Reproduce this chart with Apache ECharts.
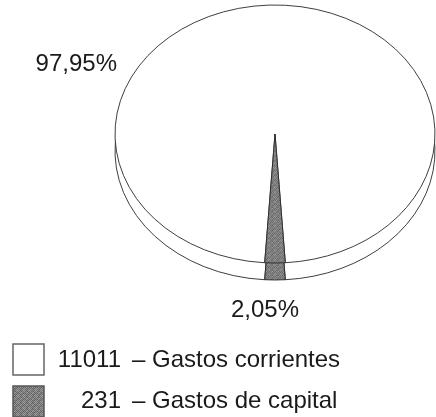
<!DOCTYPE html>
<html>
<head>
<meta charset="utf-8">
<script src="https://cdn.jsdelivr.net/npm/echarts@6/dist/echarts.min.js"></script>
<style>
  html, body { margin: 0; padding: 0; background: #fff; }
  #chart { width: 436px; height: 417px; }
</style>
</head>
<body>
<div id="chart"></div>
<script>
// datos del gráfico
var categories = ['Gastos corrientes', 'Gastos de capital'];
var values = [11011, 231];

var total = values.reduce(function (a, b) { return a + b; }, 0);

// geometria de la tarta en perspectiva
var cx = 275, cy = 134, rx = 160, ry = 129, depth = 17;
var squash = ry / rx;
var labelPos = [[117, 64, 'right'], [265, 310, 'center']];
var font = '24px "Liberation Sans", Arial, sans-serif';

// trama gris punteada (fija) para el sector pequeño
function makeGrain () {
  var shades = [
    [120, 150, 95, 140, 110, 160],
    [155, 100, 135, 90, 150, 115],
    [105, 145, 120, 165, 100, 135],
    [140, 90, 160, 110, 145, 95],
    [115, 155, 100, 130, 90, 150],
    [150, 110, 140, 95, 160, 120]
  ];
  var c = document.createElement('canvas');
  c.width = 6;
  c.height = 6;
  var ctx = c.getContext('2d');
  for (var y = 0; y < 6; y++) {
    for (var x = 0; x < 6; x++) {
      var g = shades[y][x];
      ctx.fillStyle = 'rgb(' + g + ',' + g + ',' + g + ')';
      ctx.fillRect(x, y, 1, 1);
    }
  }
  return {image: c, repeat: 'repeat'};
}
var grain = makeGrain();
var colors = ['#ffffff', grain];

function pct (v) {
  return (v / total * 100).toFixed(2).replace('.', ',') + '%';
}

// el sector pequeño queda centrado abajo (PI/2)
function angles (idx) {
  var half = values[1] / total * Math.PI;
  if (idx === 1) {
    return [Math.PI / 2 - half, Math.PI / 2 + half];
  }
  return [Math.PI / 2 + half, Math.PI / 2 - half + Math.PI * 2];
}

var myChart = echarts.init(document.getElementById('chart'), null, {renderer: 'canvas'});

var option = {
  animation: false,
  series: [{
    type: 'custom',
    coordinateSystem: 'none',
    data: values,
    renderItem: function (params, api) {
      var idx = params.dataIndex;
      var a = angles(idx);
      var lp = labelPos[idx];
      var sectorStyle = {
        fill: colors[idx],
        stroke: '#2a2a2a',
        lineWidth: 1,
        strokeNoScale: true
      };
      return {
        type: 'group',
        children: [{
          type: 'group',
          x: cx,
          y: cy,
          scaleY: squash,
          children: [{
            type: 'sector',
            z2: 1,
            shape: {cx: 0, cy: depth / squash, r0: 0, r: rx, startAngle: a[0], endAngle: a[1]},
            style: sectorStyle
          }, {
            type: 'sector',
            z2: 10,
            shape: {cx: 0, cy: 0, r0: 0, r: rx, startAngle: a[0], endAngle: a[1]},
            style: sectorStyle
          }]
        }, {
          type: 'text',
          z2: 20,
          x: lp[0],
          y: lp[1],
          style: {
            text: pct(api.value(0)),
            fill: '#1a1a1a',
            font: font,
            align: lp[2],
            verticalAlign: 'middle'
          }
        }]
      };
    }
  }],
  graphic: [{
    type: 'rect',
    shape: {x: 13, y: 344, width: 31, height: 31},
    style: {fill: '#ffffff', stroke: '#666', lineWidth: 1.5}
  }, {
    type: 'text',
    x: 121, y: 360,
    style: {text: String(values[0]), fill: '#1a1a1a', font: font, align: 'right', verticalAlign: 'middle'}
  }, {
    type: 'text',
    x: 132, y: 360,
    style: {text: '– ' + categories[0], fill: '#1a1a1a', font: font, align: 'left', verticalAlign: 'middle'}
  }, {
    type: 'rect',
    shape: {x: 13, y: 386, width: 31, height: 31},
    style: {fill: grain, stroke: '#555', lineWidth: 1.5}
  }, {
    type: 'text',
    x: 121, y: 401,
    style: {text: String(values[1]), fill: '#1a1a1a', font: font, align: 'right', verticalAlign: 'middle'}
  }, {
    type: 'text',
    x: 132, y: 401,
    style: {text: '– ' + categories[1], fill: '#1a1a1a', font: font, align: 'left', verticalAlign: 'middle'}
  }]
};

myChart.setOption(option);
</script>
</body>
</html>
